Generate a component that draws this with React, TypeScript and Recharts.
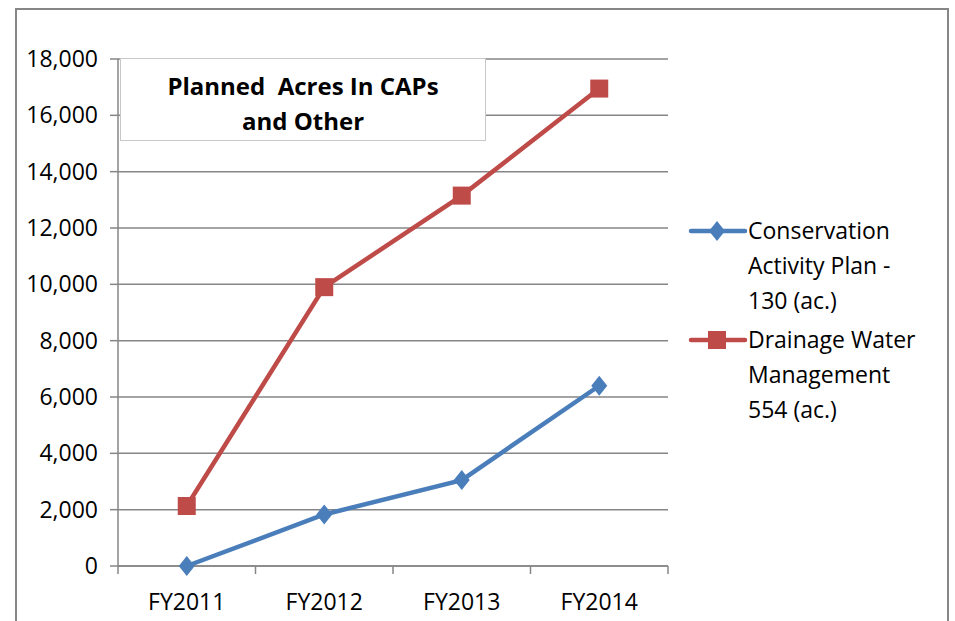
import React from "react";
import { CartesianGrid, Line, LineChart, XAxis, YAxis } from "recharts";

const categories = ["FY2011", "FY2012", "FY2013", "FY2014"];
const conservation = [0, 1830, 3050, 6400];
const drainage = [2130, 9900, 13150, 16950];
const yTicks = [0, 2000, 4000, 6000, 8000, 10000, 12000, 14000, 16000, 18000];
const seriesNames = ["Conservation\nActivity Plan -\n130 (ac.)", "Drainage Water\nManagement\n554 (ac.)"];
const titleText = "Planned  Acres In CAPs\nand Other";

const BLUE = "#4a7ebb";
const RED = "#be4b48";
const GRAY = "#868686";
const FONT = "'Open Sans', sans-serif";

// category centers at i + 0.5, boundaries at integers (Excel style ticks)
const data = categories.map((c, i) => ({ x: i + 0.5, cat: c, cap: conservation[i], dwm: drainage[i] }));
const xTicks = categories.flatMap((_, i) => [i, i + 0.5]).concat(categories.length);

const Diamond = (props: any) => {
  const { cx, cy, index } = props;
  if (cx == null || cy == null) return <g key={index} />;
  return <path key={index} d={`M${cx},${cy - 10} L${cx + 8},${cy} L${cx},${cy + 10} L${cx - 8},${cy} Z`} fill={BLUE} />;
};

const Square = (props: any) => {
  const { cx, cy, index } = props;
  if (cx == null || cy == null) return <g key={index} />;
  return <rect key={index} x={cx - 9} y={cy - 9} width={18} height={18} fill={RED} />;
};

const XTick = (props: any) => {
  const { x, y, payload } = props;
  const v = payload.value;
  if (Number.isInteger(v)) {
    return <line x1={x} x2={x} y1={y} y2={y + 8} stroke={GRAY} strokeWidth={1.5} />;
  }
  return (
    <text x={x} y={y + 35} textAnchor="middle" dominantBaseline="central" fill="#000" fontSize={23} fontFamily={FONT}>
      {categories[Math.floor(v)]}
    </text>
  );
};

export default function App() {
  return (
    <div style={{ position: "absolute", left: 0, top: 0, width: 955, height: 621, overflow: "hidden", background: "#fff", fontFamily: FONT }}>
      <div style={{ position: "absolute", left: 15, top: 8, width: 930, height: 640, border: `2px solid ${GRAY}`, borderBottom: "none" }} />
      <LineChart width={955} height={621} data={data} margin={{ top: 59, right: 287, bottom: 0, left: 0 }}>
        <CartesianGrid vertical={false} stroke={GRAY} strokeWidth={1.5} />
        <XAxis
          dataKey="x"
          type="number"
          domain={[0, categories.length]}
          ticks={xTicks}
          interval={0}
          tick={<XTick />}
          tickLine={false}
          tickSize={0}
          tickMargin={0}
          height={55}
          axisLine={{ stroke: GRAY, strokeWidth: 1.5 }}
        />
        <YAxis
          domain={[0, 18000]}
          ticks={yTicks}
          interval={0}
          width={118}
          tickSize={8}
          tickMargin={12}
          tickFormatter={(v: number) => v.toLocaleString("en-US")}
          tick={{ fill: "#000", fontSize: 23, fontFamily: FONT }}
          tickLine={{ stroke: GRAY, strokeWidth: 1.5 }}
          axisLine={{ stroke: GRAY, strokeWidth: 1.5 }}
        />
        <Line dataKey="cap" stroke={BLUE} strokeWidth={4.5} dot={Diamond} isAnimationActive={false} />
        <Line dataKey="dwm" stroke={RED} strokeWidth={4.5} dot={Square} isAnimationActive={false} />
      </LineChart>
      <div
        style={{
          position: "absolute", left: 120, top: 58, width: 366, height: 83, boxSizing: "border-box", background: "#fff",
          border: "1px solid #c8c8c8", display: "flex", alignItems: "center", justifyContent: "center", paddingTop: 6,
          textAlign: "center", whiteSpace: "pre", fontWeight: 700, fontSize: 24, lineHeight: "35px", color: "#000",
        }}
      >
        {titleText}
      </div>
      {seriesNames.map((name, i) => (
        <div key={name} style={{ position: "absolute", left: 688, top: 213 + i * 109, display: "flex", alignItems: "flex-start" }}>
          <svg width={60} height={36} style={{ flex: "none" }}>
            <line x1={3} x2={57} y1={18} y2={18} stroke={i === 0 ? BLUE : RED} strokeWidth={4.5} strokeLinecap="round" />
            {i === 0 ? (
              <path d="M29,8 L37,18 L29,28 L21,18 Z" fill={BLUE} />
            ) : (
              <rect x={20} y={9} width={18} height={18} fill={RED} />
            )}
          </svg>
          <div style={{ whiteSpace: "pre-line", fontSize: 23, lineHeight: "35px", color: "#000", marginTop: 0 }}>{name}</div>
        </div>
      ))}
    </div>
  );
}
